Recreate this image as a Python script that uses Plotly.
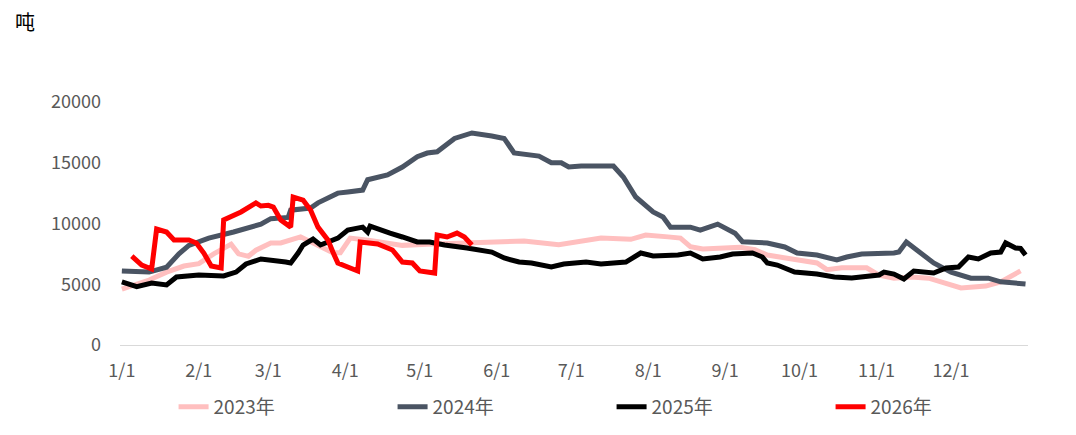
import pandas as pd
import plotly.graph_objects as go

# ---- data (day offset from Jan 1, value in tons) ----
d2023 = [0, 5, 11, 18, 25, 31, 37, 44, 47, 51, 54, 60, 64, 72, 79, 85, 88, 92, 100, 113, 123, 139, 149, 162, 176, 187, 193, 205, 211, 220, 225, 229, 234, 249, 255, 260, 268, 280, 284, 290, 300, 305, 311, 318, 325, 332, 338, 348, 354, 362]
v2023 = [4600, 4900, 5350, 6000, 6500, 6700, 7500, 8300, 7500, 7300, 7800, 8400, 8400, 8900, 8200, 7600, 7600, 8800, 8600, 8200, 8300, 8400, 8400, 8550, 8250, 8550, 8800, 8700, 9050, 8900, 8800, 8100, 7900, 8050, 7850, 7400, 7150, 6750, 6200, 6350, 6350, 5750, 5500, 5600, 5500, 5100, 4700, 4850, 5200, 6100]

d2024 = [0, 11, 18, 23, 27, 35, 45, 56, 60, 67, 68, 76, 79, 87, 91, 97, 99, 107, 113, 119, 123, 127, 134, 141, 149, 154, 158, 168, 173, 177, 180, 185, 198, 202, 207, 214, 218, 221, 229, 233, 240, 245, 247, 250, 255, 260, 267, 272, 280, 288, 292, 298, 311, 313, 316, 321, 327, 334, 342, 349, 354, 364]
v2024 = [6100, 6000, 6400, 7500, 8200, 8800, 9300, 9950, 10400, 10500, 11100, 11270, 11700, 12500, 12600, 12750, 13600, 14000, 14650, 15500, 15800, 15900, 17000, 17450, 17200, 17000, 15800, 15550, 15000, 15000, 14650, 14730, 14730, 13830, 12180, 10950, 10540, 9700, 9700, 9460, 9950, 9460, 9200, 8500, 8400, 8400, 8070, 7570, 7400, 7000, 7240, 7490, 7570, 7650, 8480, 7650, 6750, 6000, 5500, 5500, 5200, 5020]

d2025 = [0, 6, 12, 18, 22, 31, 41, 46, 50, 56, 66, 68, 71, 73, 77, 80, 87, 91, 97, 99, 100, 104, 108, 113, 119, 124, 130, 139, 149, 154, 160, 165, 173, 178, 187, 193, 198, 203, 209, 214, 224, 229, 234, 241, 246, 254, 258, 260, 264, 271, 280, 287, 294, 300, 305, 307, 311, 315, 319, 327, 332, 337, 341, 345, 350, 354, 356, 360, 362, 364]
v2025 = [5200, 4800, 5100, 4950, 5600, 5760, 5680, 6000, 6670, 7080, 6830, 6750, 7570, 8230, 8720, 8230, 8800, 9460, 9700, 9300, 9790, 9460, 9200, 8890, 8480, 8480, 8230, 7980, 7650, 7160, 6830, 6750, 6420, 6670, 6830, 6670, 6800, 6830, 7570, 7330, 7400, 7570, 7080, 7240, 7490, 7570, 7240, 6750, 6580, 6000, 5840, 5600, 5510, 5680, 5760, 6000, 5840, 5430, 6090, 5920, 6340, 6420, 7240, 7080, 7570, 7650, 8400, 7980, 7950, 7400]

d2026 = [4, 8, 12, 14, 18, 21, 27, 30, 33, 36, 40, 41, 48, 54, 56, 59, 61, 64, 68, 69, 73, 76, 79, 83, 85, 87, 95, 96, 103, 109, 113, 117, 120, 124, 126, 127, 131, 135, 138, 141]
v2026 = [7320, 6580, 6250, 9540, 9300, 8640, 8640, 8400, 7570, 6500, 6340, 10290, 10950, 11700, 11440, 11500, 11350, 10290, 9700, 12180, 11930, 11110, 9700, 8640, 7650, 6750, 6090, 8480, 8310, 7820, 6830, 6750, 6090, 6000, 5920, 9050, 8890, 9210, 8890, 8230]

series_names = ["2023年", "2024年", "2025年", "2026年"]
series_colors = ["#FFBFBF", "#4A5463", "#000000", "#FF0000"]
month_ticks = ["2026-%02d-01" % m for m in range(1, 13)]
y_ticks = [0, 5000, 10000, 15000, 20000]
y_ticktext = ["0", "5000", "10000", "15000", "20000"]

base = pd.Timestamp("2026-01-01")
def to_dates(days):
    return base + pd.to_timedelta(days, unit="D")

fig = go.Figure()
for days, vals, name, color in zip([d2023, d2024, d2025, d2026],
                                   [v2023, v2024, v2025, v2026],
                                   series_names, series_colors):
    fig.add_trace(go.Scatter(x=to_dates(days), y=vals, mode="lines", name=name,
                             line=dict(color=color, width=5)))

font_family = "Noto Sans CJK SC, Noto Sans, sans-serif"
fig.update_layout(
    width=1068, height=427,
    margin=dict(l=112, r=48, t=94, b=90, autoexpand=False),
    plot_bgcolor="white", paper_bgcolor="white",
    font=dict(family=font_family, size=18, color="#595959"),
    showlegend=True,
    legend=dict(orientation="h", x=0.059, y=-0.255, xanchor="left", yanchor="middle",
                entrywidth=174, entrywidthmode="pixels",
                font=dict(size=19, color="#595959"), itemwidth=30),
    annotations=[dict(text="吨", xref="paper", yref="paper", x=-0.105, y=1.33,
                      showarrow=False, font=dict(size=20, color="#000000"),
                      xanchor="center", yanchor="middle")],
)
fig.update_xaxes(type="date", range=["2025-12-31 06:00", "2027-01-01 00:00"],
                 tickvals=month_ticks, tickformat="%-m/%-d",
                 showgrid=False, showline=True, linecolor="#D9D9D9", linewidth=1,
                 ticks="", zeroline=False, ticklabelstandoff=9)
fig.update_yaxes(range=[0, 20000], tickvals=y_ticks, ticktext=y_ticktext, showgrid=False,
                 showline=False, zeroline=False, ticks="", ticklabelstandoff=18)

fig.write_html("out.html")
